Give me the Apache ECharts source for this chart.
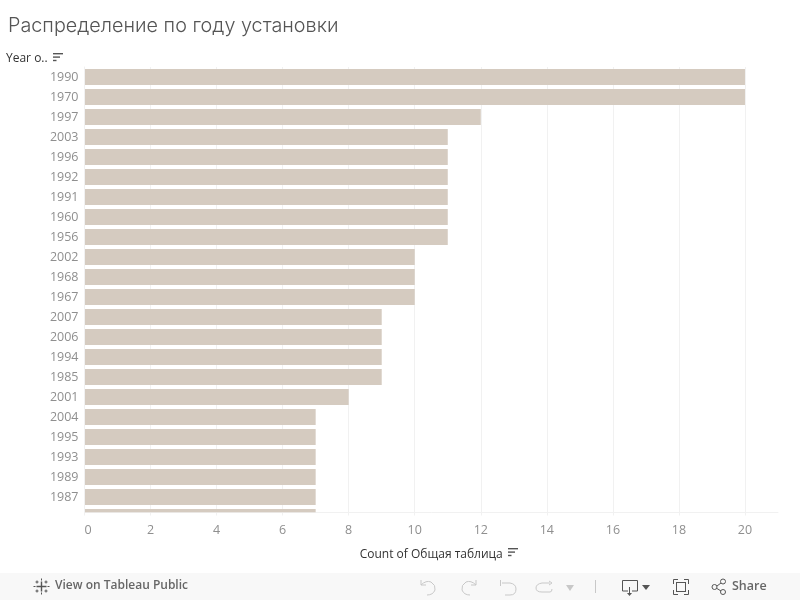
<!DOCTYPE html>
<html>
<head>
<meta charset="utf-8">
<title>Распределение по году установки</title>
<script src="https://cdn.jsdelivr.net/npm/echarts@6/dist/echarts.min.js"></script>
<style>
  html, body { margin: 0; padding: 0; background: #fff; }
  #wrap { position: relative; width: 800px; height: 600px; }
  #main { width: 800px; height: 600px; }
  #icons { position: absolute; left: 0; top: 0; pointer-events: none; }
  #icons .off { fill: none; stroke: #c8c8c8; }
  #icons .on { fill: none; stroke: #555; }
</style>
</head>
<body>
<div id="wrap">
  <div id="main"></div>
  <!-- toolbar icons of the footer strip -->
  <svg id="icons" width="800" height="600">
    <g class="on" transform="translate(41.5 586.5)">
      <path d="M-5 0H5M0 -5V5" stroke-width="1.4"/>
      <path d="M-8 0H-6M6 0H8M0 -8V-6M0 6V8"/>
      <path d="M-6 -4.5H-3M-4.5 -6V-3M3 -4.5H6M4.5 -6V-3M-6 4.5H-3M-4.5 3V6M3 4.5H6M4.5 3V6"/>
    </g>
    <path class="off" d="M421 580V585H426M421 585Q426 580 431 582Q436 585 435 590Q433 595 427 595"/>
    <path class="off" d="M476 580V585H471M476 585Q471 580 466 582Q461 585 462 590Q464 595 470 595"/>
    <path class="off" d="M500.5 580V586M502 583H510Q516 584 516 589Q516 595 510 595H505"/>
    <path class="off" d="M550 583H542Q536 584 536 588Q536 592 542 592H550Q552 592 552 589M549 581L552 583L549 585"/>
    <path d="M566 585H574L570 591Z" fill="#c8c8c8"/>
    <path class="off" d="M595.5 580V593"/>
    <path class="on" d="M628 591H622.5V580.500H637.500V591H632M629.500 587V594"/>
    <path d="M627 593H632L629.500 596Z" fill="#555"/>
    <path d="M642 585H650L646 590Z" fill="#555"/>
    <path class="on" d="M673.500 584V579.500H678M684 579.500H688.500V584M688.500 590V594.500H684M678 594.500H673.500V590"/>
    <rect class="on" x="676.500" y="582.500" width="9" height="9"/>
    <path class="on" d="M717 586L721 583M717 588.500L721 591"/>
    <circle class="on" cx="714.500" cy="587" r="2.500"/>
    <circle class="on" cx="723" cy="581.500" r="2.500"/>
    <circle class="on" cx="723" cy="592" r="2.500"/>
  </svg>
</div>
<script>
// last row is cut off by the plot edge in the picture, its label is not visible
var years = ['1990','1970','1997','2003','1996','1992','1991','1960','1956','2002','1968','1967',
             '2007','2006','1994','1985','2001','2004','1995','1993','1989','1987',''];
var counts = [20,20,12,11,11,11,11,11,11,10,10,10,9,9,9,9,8,7,7,7,7,7,7];
var xTicks = [0,2,4,6,8,10,12,14,16,18,20];
var yTicks = years.slice(0, 22).map(function (y, i) { return i; });

var uiFont = '"Open Sans", "Noto Sans", sans-serif';
var barColor = '#d5cbc0';
var gridColor = '#f1f1f1';

// sort icon next to the axis titles
function sortIcon(x, y) {
  return {
    type: 'group', x: x, y: y,
    children: [
      { type: 'rect', shape: { x: 0, y: 0, width: 10, height: 1.4 }, style: { fill: '#555' } },
      { type: 'rect', shape: { x: 0, y: 3.4, width: 7, height: 1.4 }, style: { fill: '#555' } },
      { type: 'rect', shape: { x: 0, y: 6.8, width: 3.5, height: 1.4 }, style: { fill: '#555' } }
    ]
  };
}

var myChart = echarts.init(document.getElementById('main'), null, { renderer: 'canvas' });

myChart.setOption({
  animation: false,
  backgroundColor: '#fff',
  title: {
    text: 'Распределение по году установки',
    left: 3,
    top: 11,
    textStyle: { fontFamily: 'Inter, "Open Sans", sans-serif', fontWeight: 300, fontSize: 19.8, color: '#555' }
  },
  grid: { left: 84.5, top: 67, width: 693.5, height: 445.5 },
  xAxis: {
    type: 'value',
    min: 0,
    max: 21,
    name: 'Count of Общая таблица',
    nameLocation: 'middle',
    nameGap: 36,
    nameTextStyle: { fontFamily: uiFont, fontSize: 12, color: '#333' },
    axisLine: { show: true, onZero: false, lineStyle: { color: gridColor } },
    axisTick: { show: true, length: 3, lineStyle: { color: gridColor }, customValues: xTicks },
    axisLabel: { color: '#8f8f8f', fontFamily: uiFont, fontSize: 12.5, margin: 11, customValues: xTicks, alignMinLabel: 'left' },
    splitLine: { show: true, lineStyle: { color: gridColor } }
  },
  yAxis: {
    type: 'value',
    inverse: true,
    min: -0.5,
    max: 21.775,
    axisLine: { show: true, onZero: false, lineStyle: { color: gridColor } },
    axisTick: { show: false, customValues: yTicks },
    splitLine: { show: false },
    axisLabel: {
      color: '#8f8f8f', fontFamily: uiFont, fontSize: 12.5, margin: 6,
      padding: [3, 0, 0, 0],
      customValues: yTicks,
      formatter: function (v) { return years[v]; }
    }
  },
  series: [{
    type: 'custom',
    clip: true,
    data: counts.map(function (c, i) { return [c, i]; }),
    encode: { x: 0, y: 1 },
    renderItem: function (params, api) {
      var start = api.coord([0, api.value(1)]);
      var end = api.coord([api.value(0), api.value(1)]);
      var h = api.size([0, 0.8])[1];
      var rect = echarts.graphic.clipRectByRect(
        { x: start[0] + 0.5, y: start[1] - h / 2, width: end[0] - start[0] - 0.5, height: h },
        params.coordSys
      );
      return rect && { type: 'rect', shape: rect, style: { fill: barColor } };
    }
  }],
  graphic: [
    { type: 'text', x: 6, y: 53, style: { text: 'Year o..', font: '500 12px ' + uiFont, fill: '#333' } },
    sortIcon(53, 53),
    sortIcon(508, 548),
    // footer strip
    { type: 'rect', z: -1, shape: { x: 0, y: 573, width: 800, height: 27 }, style: { fill: '#f8f8f8' } },
    { type: 'text', x: 55, y: 580, style: { text: 'View on Tableau Public', font: '600 12px ' + uiFont, fill: '#666' } },
    { type: 'text', x: 732, y: 580, style: { text: 'Share', font: '600 12.5px ' + uiFont, fill: '#666' } }
  ]
});
</script>
</body>
</html>
